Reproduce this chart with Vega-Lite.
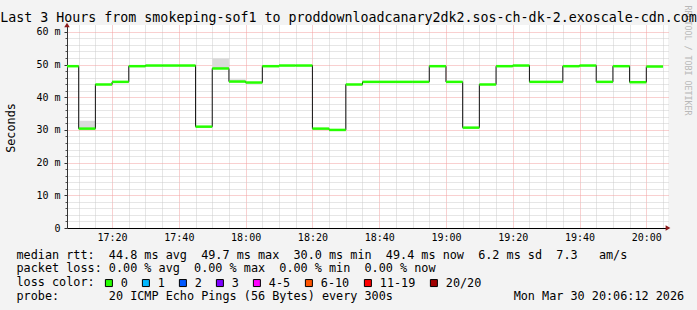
{
  "$schema": "https://vega.github.io/schema/vega-lite/v6.json",
  "width": 601,
  "height": 203,
  "autosize": {"type": "none"},
  "padding": {"left": 67, "top": 25, "right": 29, "bottom": 82},
  "background": "#f3f3f3",
  "config": {
    "view": {"fill": "white", "stroke": null},
    "font": "DejaVu Sans Mono"
  },
  "title": {
    "text": "Last 3 Hours from smokeping-sof1 to proddownloadcanary2dk2.sos-ch-dk-2.exoscale-cdn.com",
    "font": "DejaVu Sans Mono",
    "fontSize": 13.3,
    "fontWeight": "normal",
    "color": "black",
    "anchor": "middle",
    "frame": "group",
    "dx": -19,
    "dy": 20,
    "offset": 1
  },
  "datasets": {
    "steps": [
      {"t": "2026-03-30T17:05:00Z", "end": "2026-03-30T17:10:00Z", "v": 49.5, "loss": "0"},
      {"t": "2026-03-30T17:10:00Z", "end": "2026-03-30T17:15:00Z", "v": 30.4, "loss": "0"},
      {"t": "2026-03-30T17:15:00Z", "end": "2026-03-30T17:20:00Z", "v": 43.9, "loss": "0"},
      {"t": "2026-03-30T17:20:00Z", "end": "2026-03-30T17:25:00Z", "v": 44.7, "loss": "0"},
      {"t": "2026-03-30T17:25:00Z", "end": "2026-03-30T17:30:00Z", "v": 49.5, "loss": "0"},
      {"t": "2026-03-30T17:30:00Z", "end": "2026-03-30T17:35:00Z", "v": 49.7, "loss": "0"},
      {"t": "2026-03-30T17:35:00Z", "end": "2026-03-30T17:40:00Z", "v": 49.7, "loss": "0"},
      {"t": "2026-03-30T17:40:00Z", "end": "2026-03-30T17:45:00Z", "v": 49.7, "loss": "0"},
      {"t": "2026-03-30T17:45:00Z", "end": "2026-03-30T17:50:00Z", "v": 31.0, "loss": "0"},
      {"t": "2026-03-30T17:50:00Z", "end": "2026-03-30T17:55:00Z", "v": 48.8, "loss": "0"},
      {"t": "2026-03-30T17:55:00Z", "end": "2026-03-30T18:00:00Z", "v": 44.8, "loss": "0"},
      {"t": "2026-03-30T18:00:00Z", "end": "2026-03-30T18:05:00Z", "v": 44.5, "loss": "0"},
      {"t": "2026-03-30T18:05:00Z", "end": "2026-03-30T18:10:00Z", "v": 49.5, "loss": "0"},
      {"t": "2026-03-30T18:10:00Z", "end": "2026-03-30T18:15:00Z", "v": 49.7, "loss": "0"},
      {"t": "2026-03-30T18:15:00Z", "end": "2026-03-30T18:20:00Z", "v": 49.7, "loss": "0"},
      {"t": "2026-03-30T18:20:00Z", "end": "2026-03-30T18:25:00Z", "v": 30.4, "loss": "0"},
      {"t": "2026-03-30T18:25:00Z", "end": "2026-03-30T18:30:00Z", "v": 30.0, "loss": "0"},
      {"t": "2026-03-30T18:30:00Z", "end": "2026-03-30T18:35:00Z", "v": 43.9, "loss": "0"},
      {"t": "2026-03-30T18:35:00Z", "end": "2026-03-30T18:40:00Z", "v": 44.7, "loss": "0"},
      {"t": "2026-03-30T18:40:00Z", "end": "2026-03-30T18:45:00Z", "v": 44.7, "loss": "0"},
      {"t": "2026-03-30T18:45:00Z", "end": "2026-03-30T18:50:00Z", "v": 44.7, "loss": "0"},
      {"t": "2026-03-30T18:50:00Z", "end": "2026-03-30T18:55:00Z", "v": 44.7, "loss": "0"},
      {"t": "2026-03-30T18:55:00Z", "end": "2026-03-30T19:00:00Z", "v": 49.5, "loss": "0"},
      {"t": "2026-03-30T19:00:00Z", "end": "2026-03-30T19:05:00Z", "v": 44.7, "loss": "0"},
      {"t": "2026-03-30T19:05:00Z", "end": "2026-03-30T19:10:00Z", "v": 30.7, "loss": "0"},
      {"t": "2026-03-30T19:10:00Z", "end": "2026-03-30T19:15:00Z", "v": 43.9, "loss": "0"},
      {"t": "2026-03-30T19:15:00Z", "end": "2026-03-30T19:20:00Z", "v": 49.5, "loss": "0"},
      {"t": "2026-03-30T19:20:00Z", "end": "2026-03-30T19:25:00Z", "v": 49.7, "loss": "0"},
      {"t": "2026-03-30T19:25:00Z", "end": "2026-03-30T19:30:00Z", "v": 44.7, "loss": "0"},
      {"t": "2026-03-30T19:30:00Z", "end": "2026-03-30T19:35:00Z", "v": 44.7, "loss": "0"},
      {"t": "2026-03-30T19:35:00Z", "end": "2026-03-30T19:40:00Z", "v": 49.5, "loss": "0"},
      {"t": "2026-03-30T19:40:00Z", "end": "2026-03-30T19:45:00Z", "v": 49.7, "loss": "0"},
      {"t": "2026-03-30T19:45:00Z", "end": "2026-03-30T19:50:00Z", "v": 44.7, "loss": "0"},
      {"t": "2026-03-30T19:50:00Z", "end": "2026-03-30T19:55:00Z", "v": 49.5, "loss": "0"},
      {"t": "2026-03-30T19:55:00Z", "end": "2026-03-30T20:00:00Z", "v": 44.6, "loss": "0"},
      {"t": "2026-03-30T20:00:00Z", "end": "2026-03-30T20:05:00Z", "v": 49.4, "loss": "0"}
    ],
    "smoke": [
      {"t": "2026-03-30T17:10:00Z", "end": "2026-03-30T17:15:00Z", "lo": 30.4, "hi": 32.8},
      {"t": "2026-03-30T17:50:00Z", "end": "2026-03-30T17:55:00Z", "lo": 48.8, "hi": 51.9},
      {"t": "2026-03-30T17:55:00Z", "end": "2026-03-30T18:00:00Z", "lo": 44.8, "hi": 45.5}
    ],
    "arrows": [
      {"t": "2026-03-30T20:06:30Z", "v": 0, "shape": "triangle-right"},
      {"t": "2026-03-30T17:06:30Z", "v": 62.1, "shape": "triangle-up"}
    ]
  },
  "layer": [
    {
      "data": {"name": "smoke"},
      "mark": {"type": "rect", "color": "#dadada", "clip": true},
      "encoding": {
        "x": {
          "field": "t", "type": "temporal",
          "scale": {"type": "utc", "domain": [1774890390000, 1774901190000]},
          "axis": {
            "orient": "bottom",
            "values": [1774890600000, 1774890900000, 1774891500000, 1774891800000, 1774892100000, 1774892700000, 1774893000000, 1774893300000, 1774893900000, 1774894200000, 1774894500000, 1774895100000, 1774895400000, 1774895700000, 1774896300000, 1774896600000, 1774896900000, 1774897500000, 1774897800000, 1774898100000, 1774898700000, 1774899000000, 1774899300000, 1774899900000, 1774900200000, 1774900500000, 1774901100000],
            "grid": true, "gridColor": "#cccccc", "gridDash": [1, 1], "gridWidth": 1,
            "labels": false, "ticks": false, "domain": false, "title": null
          }
        },
        "x2": {"field": "end"},
        "y": {
          "field": "lo", "type": "quantitative",
          "scale": {"domain": [0, 62.1], "nice": false},
          "axis": {
            "orient": "left",
            "values": [2, 4, 6, 8, 12, 14, 16, 18, 22, 24, 26, 28, 32, 34, 36, 38, 42, 44, 46, 48, 52, 54, 56, 58],
            "grid": true, "gridColor": "#cccccc", "gridDash": [1, 1], "gridWidth": 1,
            "labels": false, "ticks": true, "tickSize": 2, "tickColor": "#555555", "domain": false, "title": null
          }
        },
        "y2": {"field": "hi"}
      }
    },
    {
      "data": {"name": "steps"},
      "mark": {"type": "line", "interpolate": "step-after", "color": "#111111", "strokeWidth": 1, "clip": true},
      "encoding": {
        "x": {
          "field": "t", "type": "temporal",
          "axis": {
            "orient": "bottom",
            "values": [1774891200000, 1774892400000, 1774893600000, 1774894800000, 1774896000000, 1774897200000, 1774898400000, 1774899600000, 1774900800000],
            "format": "%H:%M",
            "grid": true, "gridColor": "#f2a0a0", "gridDash": [1, 1], "gridWidth": 1,
            "labelFont": "DejaVu Sans Mono", "labelFontSize": 10, "labelColor": "black", "labelPadding": 4,
            "labelFlush": false, "labelOverlap": false,
            "ticks": false,
            "domain": true, "domainColor": "black", "domainWidth": 1,
            "title": [
              "median\u00a0rtt:\u00a0\u00a044.8\u00a0ms\u00a0avg\u00a0\u00a049.7\u00a0ms\u00a0max\u00a0\u00a030.0\u00a0ms\u00a0min\u00a0\u00a049.4\u00a0ms\u00a0now\u00a0\u00a06.2\u00a0ms\u00a0sd\u00a0\u00a07.3\u00a0\u00a0\u00a0am/s",
              "packet\u00a0loss:\u00a00.00\u00a0%\u00a0avg\u00a0\u00a00.00\u00a0%\u00a0max\u00a0\u00a00.00\u00a0%\u00a0min\u00a0\u00a00.00\u00a0%\u00a0now",
              "loss\u00a0color:",
              "probe:\u00a0\u00a0\u00a0\u00a0\u00a0\u00a0\u00a020\u00a0ICMP\u00a0Echo\u00a0Pings\u00a0(56\u00a0Bytes)\u00a0every\u00a0300s\u00a0\u00a0\u00a0\u00a0\u00a0\u00a0\u00a0\u00a0\u00a0\u00a0\u00a0\u00a0\u00a0\u00a0\u00a0\u00a0\u00a0Mon\u00a0Mar\u00a030\u00a020:06:12\u00a02026"
            ],
            "titleFont": "DejaVu Sans Mono", "titleFontSize": 11.8, "titleFontWeight": "normal", "titleColor": "black",
            "titleAnchor": "start", "titleAlign": "left", "titleBaseline": "top",
            "titleX": -51, "titleY": 21, "titleLineHeight": 13.8
          }
        },
        "y": {
          "field": "v", "type": "quantitative",
          "axis": {
            "orient": "left",
            "values": [0, 10, 20, 30, 40, 50, 60],
            "labelExpr": "datum.value == 0 ? '0' : datum.label + ' m'",
            "grid": true, "gridColor": "#f2a0a0", "gridDash": [1, 1], "gridWidth": 1,
            "domain": true, "domainColor": "#333333", "domainWidth": 1,
            "ticks": true, "tickSize": 3, "tickColor": "#333333",
            "labelFont": "DejaVu Sans Mono", "labelFontSize": 10, "labelColor": "black", "labelPadding": 4,
            "labelOverlap": false,
            "title": "Seconds",
            "titleFont": "DejaVu Sans Mono", "titleFontSize": 11.8, "titleFontWeight": "normal", "titleColor": "black",
            "titleAngle": 270, "titleX": -57, "titleY": 102.5, "titleAlign": "center", "titleBaseline": "middle"
          }
        }
      }
    },
    {
      "data": {"name": "steps"},
      "mark": {"type": "rule", "strokeWidth": 2.5, "color": "#26ff00", "clip": true},
      "encoding": {
        "x": {"field": "t", "type": "temporal", "axis": null},
        "x2": {"field": "end"},
        "y": {
          "field": "v", "type": "quantitative",
          "axis": {"orient": "right", "title": "RRDTOOL\u00a0/\u00a0TOBI\u00a0OETIKER", "titleAngle": 90, "titleFont": "DejaVu Sans Mono", "titleFontSize": 8.3, "titleFontWeight": "normal", "titleColor": "#b8b8b8", "titleX": 18, "titleY": -20, "titleAlign": "left", "titleBaseline": "middle", "labels": false, "ticks": false, "domain": false, "grid": false}
        }
      }
    },
    {
      "data": {"name": "steps"},
      "mark": {"type": "rect", "strokeWidth": 0, "clip": true},
      "encoding": {
        "x": {"field": "t", "type": "temporal", "axis": null},
        "x2": {"field": "end"},
        "y": {"field": "v", "type": "quantitative", "axis": null},
        "y2": {"field": "v"},
        "color": {
          "field": "loss", "type": "nominal",
          "scale": {"domain": ["0", "1", "2", "3", "4-5", "6-10", "11-19", "20/20"], "range": ["#26ff00", "#00b8ff", "#0059ff", "#7e00ff", "#ff00ff", "#ff5500", "#ff0000", "#a10000"]},
          "legend": {
            "orient": "none", "legendX": 36, "legendY": 252,
            "direction": "horizontal", "columns": 8, "title": null,
            "symbolType": "square", "symbolSize": 49, "symbolStrokeColor": "black", "symbolStrokeWidth": 1,
            "labelFont": "DejaVu Sans Mono", "labelFontSize": 11.8, "labelColor": "black", "labelOffset": 6,
            "columnPadding": 12
          }
        }
      }
    },
    {
      "data": {"name": "arrows"},
      "mark": {"type": "point", "filled": true, "color": "#8b1a1a", "size": 30, "clip": false, "opacity": 1},
      "encoding": {
        "x": {"field": "t", "type": "temporal", "axis": null},
        "y": {"field": "v", "type": "quantitative", "axis": null},
        "shape": {"field": "shape", "type": "nominal", "scale": null, "legend": null}
      }
    }
  ],
  "resolve": {"axis": {"x": "independent", "y": "independent"}}
}
